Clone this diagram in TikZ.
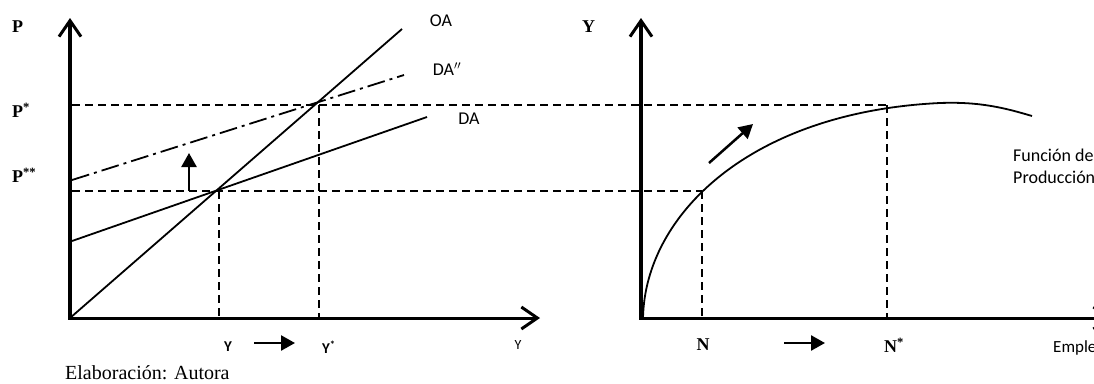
\documentclass[tikz,border=0pt]{standalone}
\usepackage{fontspec}
\setmainfont{Liberation Serif}
\newfontfamily\calib{Carlito}
\usepackage{tikz}
\usetikzlibrary{arrows.meta}

\begin{document}
\begin{tikzpicture}[x=1pt, y=-1pt,
  eje/.style={line width=3pt, -{Straight Barb[length=16pt, width=22pt, line width=3pt]}},
  guia/.style={line width=1.8pt, dash pattern=on 8pt off 5pt},
  recta/.style={line width=1.8pt},
  flecha/.style={line width=2.5pt, -{Triangle[length=14pt, width=15pt]}},
  etq/.style={font=\fontsize{18}{20}\selectfont\bfseries, inner sep=0pt},
  txt/.style={font=\calib\fontsize{18}{22}\selectfont, inner sep=0pt, align=left}]

\useasboundingbox (0,0) rectangle (1094,383);

% puntos de los dos graficos
\coordinate (O1) at (70,318);
\coordinate (O2) at (641,318);
\coordinate (Ptop) at (70,18);
\coordinate (Xend) at (540,318);
\coordinate (Ytop) at (641,18);
\coordinate (Nend) at (1112,318);
\coordinate (Pss) at (72,191);
\coordinate (Ps) at (72,105);
\coordinate (E1) at (219,191);
\coordinate (E2) at (319,105);
\coordinate (Fn) at (702,191);
\coordinate (Fs) at (887,105);
\coordinate (Y1) at (219,318);
\coordinate (Y2) at (319,318);
\coordinate (N1) at (702,318);
\coordinate (N2) at (887,318);

% ejes
\draw[eje, line width=4.5pt] (O1) -- (Ptop);
\draw[eje] ([xshift=-2pt]O1) -- (Xend);
\draw[eje, line width=4.5pt] (O2) -- (Ytop);
\draw[eje] ([xshift=-2pt]O2) -- (Nend);

% rectas OA, DA, DA''
\coordinate (OAend) at (402,29);
\coordinate (DAa) at (72,241);
\coordinate (DAend) at (427,117);
\coordinate (DBa) at (72,180);
\coordinate (DBend) at (404,75);
\draw[recta] (O1) -- (OAend);
\draw[recta] (DAa) -- (DAend);
\draw[recta, dash pattern=on 18pt off 5pt on 3pt off 5pt] (DBa) -- (DBend);

% lineas guia
\draw[guia] (Ps) -- (Fs);
\draw[guia] (Pss) -- (Fn);
\draw[guia] (E1) -- (Y1);
\draw[guia] (E2) -- (Y2);
\draw[guia] (Fn) -- (N1);
\draw[guia] (Fs) -- (N2);

% funcion de produccion
\draw[recta] (643,318) .. controls (645,215) and (750,112) .. (940,103)
  .. controls (980,101.5) and (1005,108) .. (1032,116);

% desplazamientos
\coordinate (up1) at (189,191);
\coordinate (up2) at (189,153);
\coordinate (d1) at (709,163);
\coordinate (d2) at (753,124);
\coordinate (a1) at (254,343);
\coordinate (a2) at (295,343);
\coordinate (b1) at (784,343);
\coordinate (b2) at (825,343);
\draw[flecha] (up1) -- (up2);
\draw[flecha] (d1) -- (d2);
\draw[flecha] (a1) -- (a2);
\draw[flecha] (b1) -- (b2);

% etiquetas
\node[etq, anchor=west] (lP) at (12,27) {P};
\node[etq, anchor=west] (lPs) at (12,110) {P\textsuperscript{*}};
\node[etq, anchor=west] (lPss) at (12,175) {P\textsuperscript{**}};
\node[etq, anchor=west] (lY) at (582,27) {Y};
\node[etq] (lN) at (703,345) {N};
\node[etq, anchor=west] (lNs) at (884,345) {N\textsuperscript{*}};
\node[txt] (lOA) at (441,21) {OA};
\node[txt] (lDB) at (447,69) {DA$^{\prime\prime}$};
\node[txt] (lDA) at (469,119) {DA};
\node[txt, anchor=west] (lFP) at (1013,166) {Función de\\Producción};
\node[font=\calib\bfseries\fontsize{15}{17}\selectfont, inner sep=0pt] (lY1) at (228,347) {Y};
\node[font=\calib\bfseries\fontsize{15}{17}\selectfont, inner sep=0pt, anchor=west] (lY2) at (322,347) {Y\textsuperscript{*}};
\node[font=\calib\fontsize{14}{16}\selectfont, inner sep=0pt] (lYx) at (518,345) {Y};
\node[font=\calib\fontsize{17}{19}\selectfont, inner sep=0pt, anchor=west] (lEm) at (1053,348) {Empleo};
\node[font=\fontsize{20}{22}\selectfont, inner sep=0pt, anchor=base west] (lEl) at (65,379) {Elaboración: Autora};

\end{tikzpicture}
\end{document}
